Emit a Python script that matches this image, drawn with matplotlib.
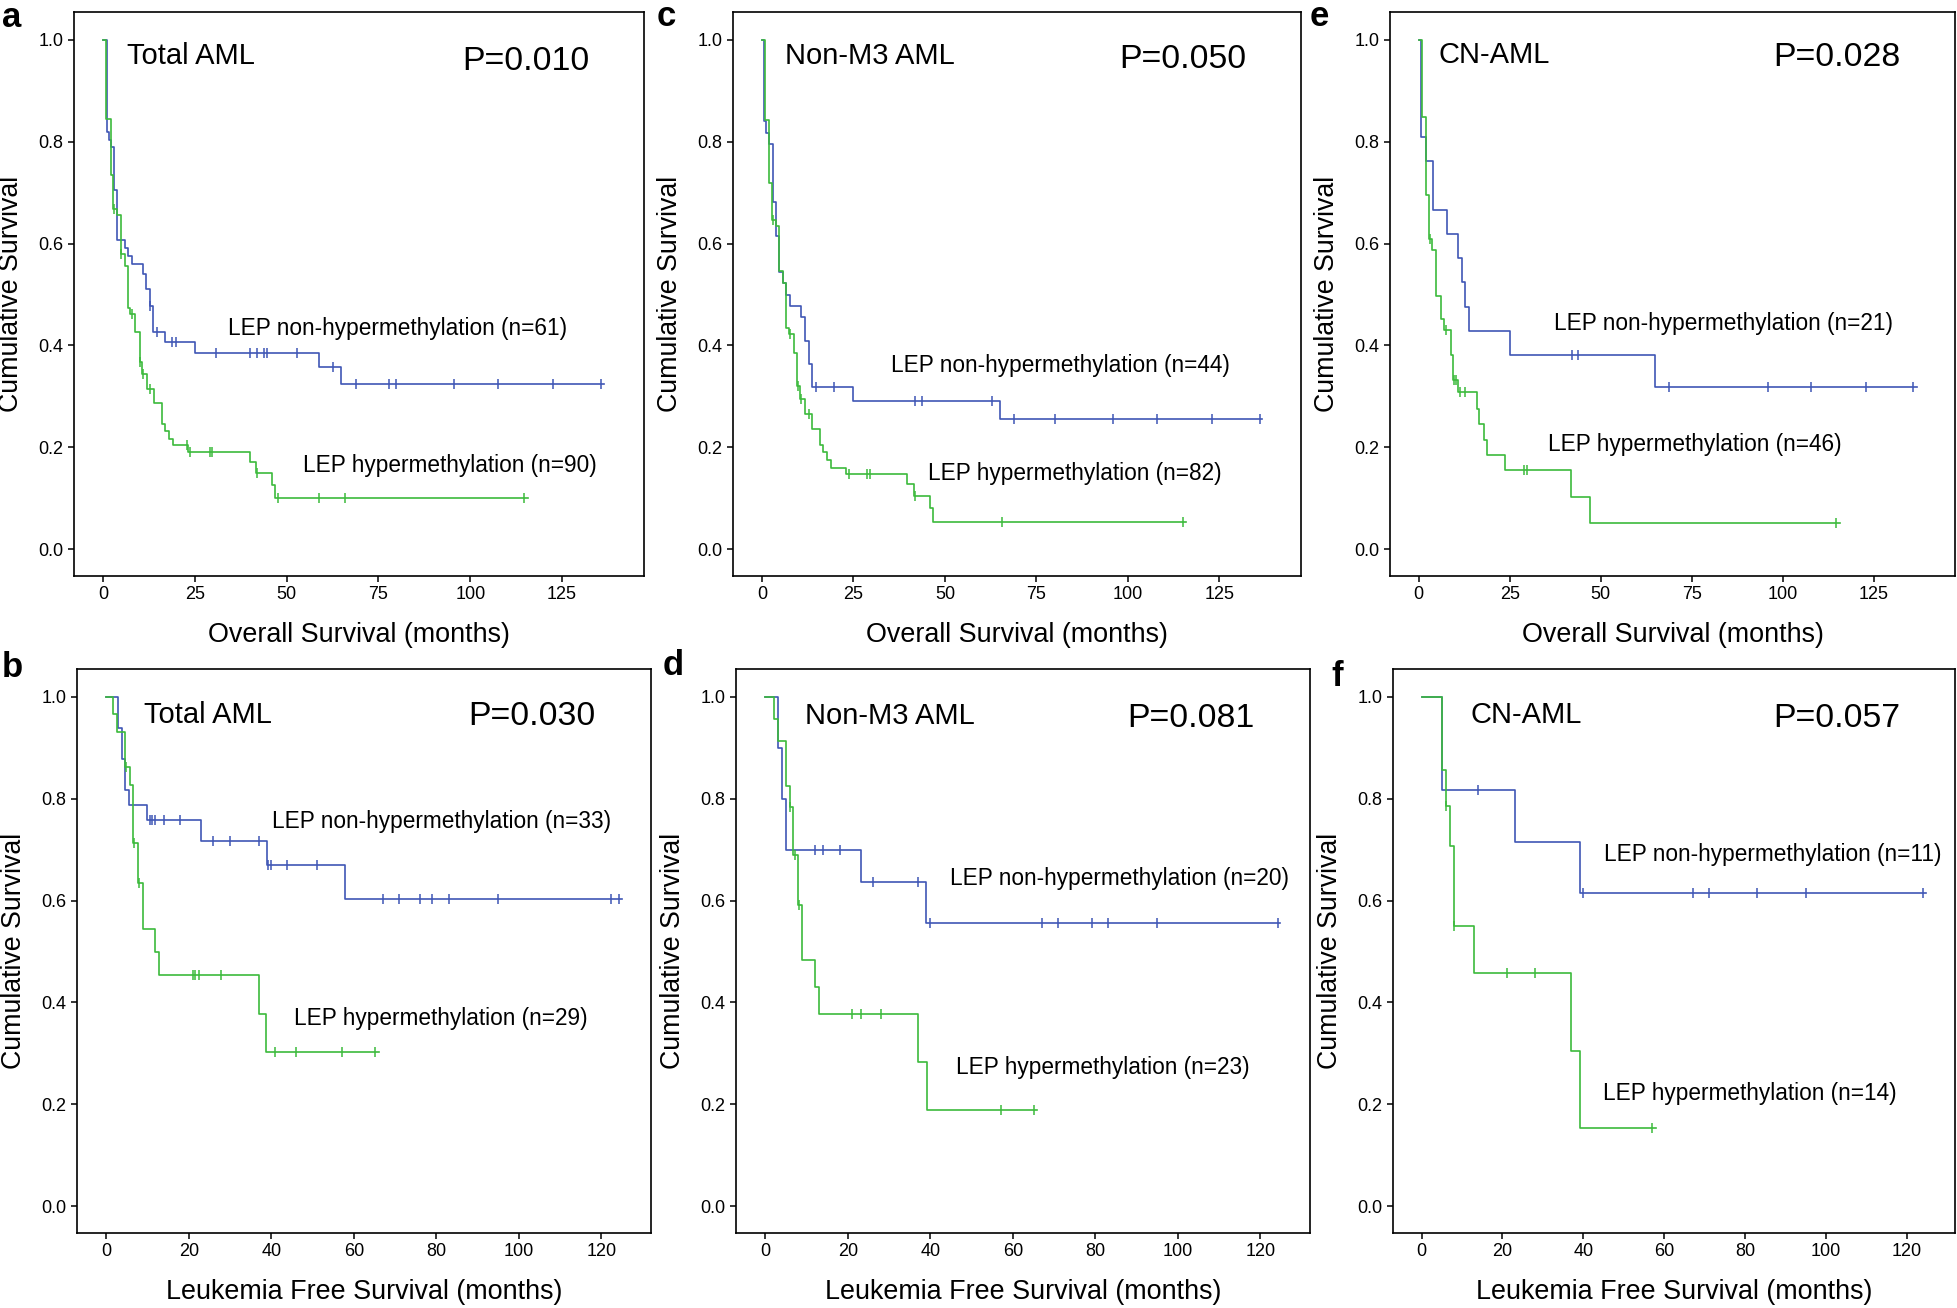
import numpy as np
import matplotlib.pyplot as plt

plt.rcParams['font.family'] = ['Liberation Sans', 'DejaVu Sans']

BLUE = '#3f56b5'
GREEN = '#3cba3c'

# a: Total AML, overall survival
a_non_t = [1.0, 1.5, 2.1, 3.0, 3.8, 6.0, 6.9, 7.9, 10.9, 11.8, 12.8, 13.7, 16.8, 25.0, 58.9, 64.9]
a_non_s = [0.820, 0.803, 0.789, 0.706, 0.608, 0.592, 0.575, 0.559, 0.541, 0.510, 0.477, 0.426, 0.406, 0.386, 0.357, 0.324]
a_non_c = [12.9, 14.8, 18.9, 19.8, 30.8, 40.1, 41.9, 43.8, 44.6, 52.9, 62.7, 68.9, 77.8, 79.7, 95.7, 107.6, 122.6, 135.7]
a_non_end = 136.5
a_hyp_t = [0.7, 2.1, 2.8, 3.9, 4.8, 6.0, 6.9, 7.4, 8.7, 10.1, 10.5, 12.0, 13.9, 16.0, 17.0, 18.1, 19.0, 23.2, 40.0, 41.7, 46.0, 46.9]
a_hyp_s = [0.845, 0.734, 0.668, 0.657, 0.579, 0.556, 0.474, 0.461, 0.426, 0.368, 0.343, 0.315, 0.287, 0.245, 0.232, 0.217, 0.204, 0.190, 0.170, 0.150, 0.125, 0.101]
a_hyp_c = [2.9, 5.0, 7.8, 10.2, 10.8, 12.8, 23.0, 23.8, 29.0, 29.8, 42.0, 47.7, 58.9, 65.8, 114.7]
a_hyp_end = 115.6

# c: Non-M3 AML, overall survival
c_non_t = [0.6, 1.1, 2.0, 2.9, 3.8, 4.7, 5.7, 6.6, 7.6, 10.8, 11.8, 12.9, 13.7, 25.0, 65.0]
c_non_s = [0.841, 0.818, 0.795, 0.682, 0.614, 0.545, 0.523, 0.500, 0.477, 0.455, 0.409, 0.364, 0.318, 0.291, 0.255]
c_non_c = [14.7, 19.8, 41.8, 43.7, 62.9, 68.8, 80.0, 95.9, 107.9, 122.9, 136.1]
c_non_end = 136.6
c_hyp_t = [0.8, 1.8, 2.7, 3.8, 4.7, 5.7, 6.6, 7.4, 8.7, 9.6, 10.5, 11.8, 13.8, 15.8, 16.6, 17.9, 18.9, 23.0, 39.7, 41.6, 45.8, 46.8]
c_hyp_s = [0.842, 0.720, 0.647, 0.635, 0.547, 0.523, 0.435, 0.423, 0.385, 0.320, 0.295, 0.265, 0.235, 0.205, 0.190, 0.175, 0.160, 0.147, 0.127, 0.105, 0.080, 0.053]
c_hyp_c = [3.0, 7.8, 9.9, 10.7, 13.0, 23.7, 28.7, 29.6, 41.8, 65.7, 115.0]
c_hyp_end = 115.8

# e: CN-AML, overall survival
e_non_t = [0.7, 1.9, 3.9, 7.8, 10.9, 11.9, 12.7, 13.8, 25.0, 64.8]
e_non_s = [0.810, 0.762, 0.667, 0.619, 0.571, 0.524, 0.476, 0.429, 0.381, 0.318]
e_non_c = [42.0, 43.8, 68.7, 95.8, 107.7, 122.8, 135.8]
e_non_end = 136.8
e_hyp_t = [0.8, 1.9, 2.8, 3.7, 4.8, 6.0, 6.9, 8.9, 9.5, 10.8, 15.9, 16.5, 17.9, 18.8, 23.8, 41.9, 47.0]
e_hyp_s = [0.848, 0.696, 0.609, 0.587, 0.497, 0.452, 0.430, 0.381, 0.333, 0.309, 0.275, 0.245, 0.215, 0.185, 0.155, 0.103, 0.052]
e_hyp_c = [3.2, 7.4, 9.7, 10.2, 11.2, 12.8, 29.0, 29.8, 114.7]
e_hyp_end = 115.6

# b: Total AML, leukemia free survival
b_non_t = [2.9, 3.7, 4.5, 5.6, 9.9, 22.9, 38.9, 57.9]
b_non_s = [0.939, 0.879, 0.818, 0.788, 0.758, 0.718, 0.670, 0.603]
b_non_c = [10.6, 11.1, 11.9, 13.9, 17.8, 25.9, 29.9, 37.0, 39.3, 39.9, 43.9, 51.0, 67.0, 71.0, 75.9, 79.0, 83.0, 95.0, 122.2, 124.2]
b_non_end = 124.9
b_hyp_t = [1.7, 2.6, 4.5, 5.8, 6.5, 7.6, 8.8, 11.9, 12.8, 36.9, 38.8]
b_hyp_s = [0.966, 0.931, 0.862, 0.828, 0.714, 0.635, 0.544, 0.499, 0.454, 0.378, 0.302]
b_hyp_c = [4.8, 6.7, 7.9, 21.0, 21.6, 22.5, 27.9, 41.0, 45.9, 57.0, 65.2]
b_hyp_end = 66.0

# d: Non-M3 AML, leukemia free survival
d_non_t = [3.0, 4.0, 5.1, 23.1, 39.0]
d_non_s = [0.900, 0.800, 0.700, 0.636, 0.556]
d_non_c = [12.1, 14.0, 18.1, 26.0, 37.0, 40.0, 67.1, 71.0, 79.1, 83.1, 95.0, 124.3]
d_non_end = 124.8
d_hyp_t = [2.0, 3.0, 5.1, 5.9, 6.8, 8.0, 9.0, 12.1, 12.9, 37.1, 39.1]
d_hyp_s = [0.957, 0.913, 0.826, 0.783, 0.690, 0.592, 0.484, 0.430, 0.377, 0.282, 0.188]
d_hyp_c = [6.0, 7.2, 8.2, 21.1, 23.1, 28.0, 57.0, 65.2]
d_hyp_end = 65.9

# f: CN-AML, leukemia free survival
f_non_t = [5.1, 23.0, 39.1]
f_non_s = [0.818, 0.716, 0.614]
f_non_c = [14.0, 40.0, 67.1, 71.0, 83.0, 95.0, 124.2]
f_non_end = 124.8
f_hyp_t = [5.1, 6.0, 7.0, 8.0, 13.0, 37.0, 39.1]
f_hyp_s = [0.857, 0.786, 0.707, 0.550, 0.458, 0.305, 0.153]
f_hyp_c = [6.1, 8.1, 21.0, 28.0, 57.0]
f_hyp_end = 57.9

letters = ['a', 'c', 'e', 'b', 'd', 'f']
groups = ['Total AML', 'Non-M3 AML', 'CN-AML', 'Total AML', 'Non-M3 AML', 'CN-AML']
pvals = ['P=0.010', 'P=0.050', 'P=0.028', 'P=0.030', 'P=0.081', 'P=0.057']
n_non = [61, 44, 21, 33, 20, 11]
n_hyp = [90, 82, 46, 29, 23, 14]
xlabels = ['Overall Survival (months)'] * 3 + ['Leukemia Free Survival (months)'] * 3

curves = [
    ((a_non_t, a_non_s, a_non_c, a_non_end), (a_hyp_t, a_hyp_s, a_hyp_c, a_hyp_end)),
    ((c_non_t, c_non_s, c_non_c, c_non_end), (c_hyp_t, c_hyp_s, c_hyp_c, c_hyp_end)),
    ((e_non_t, e_non_s, e_non_c, e_non_end), (e_hyp_t, e_hyp_s, e_hyp_c, e_hyp_end)),
    ((b_non_t, b_non_s, b_non_c, b_non_end), (b_hyp_t, b_hyp_s, b_hyp_c, b_hyp_end)),
    ((d_non_t, d_non_s, d_non_c, d_non_end), (d_hyp_t, d_hyp_s, d_hyp_c, d_hyp_end)),
    ((f_non_t, f_non_s, f_non_c, f_non_end), (f_hyp_t, f_hyp_s, f_hyp_c, f_hyp_end)),
]

# text anchors in data coords (title, p, non label, hyp label)
title_xy = [(6.6, 0.952), (6.3, 0.953), (5.4, 0.955), (9.1, 0.949), (9.5, 0.946), (12.2, 0.949)]
p_xy = [(97.8, 0.941), (97.7, 0.945), (97.5, 0.949), (87.8, 0.945), (87.7, 0.941), (87.1, 0.941)]
non_xy = [(34.1, 0.421), (35.2, 0.348), (37.1, 0.431), (40.1, 0.743), (44.8, 0.630), (45.1, 0.677)]
hyp_xy = [(54.5, 0.151), (45.5, 0.136), (35.4, 0.193), (45.4, 0.355), (46.3, 0.260), (44.9, 0.208)]

W, H = 1958, 1308
# axes frames in pixels: left, top, right, bottom
frames = [(74, 12, 644, 576), (733, 12, 1301, 576), (1390, 12, 1955, 576),
          (77, 669, 651, 1233), (736, 669, 1310, 1233), (1393, 669, 1955, 1233)]
letter_pos = [(2, 27), (657, 26), (1310, 26), (2, 677), (663, 675), (1331, 686)]


def km(ax, times, surv, cens, end, color):
    t = np.asarray(times)
    s = np.asarray(surv)
    ax.step(np.r_[0, t, end], np.r_[1.0, s, s[-1]], where='post', color=color, lw=1.2)
    idx = np.searchsorted(t, cens, side='right')
    ax.plot(cens, np.r_[1.0, s][idx], ls='none', marker='|', ms=6.5, mew=1.1, color=color)


fig = plt.figure(figsize=(W / 100, H / 100), dpi=100)
for i in range(6):
    l, t, r, b = frames[i]
    ax = fig.add_axes([l / W, 1 - b / H, (r - l) / W, (b - t) / H])
    non, hyp = curves[i]
    km(ax, *non, BLUE)
    km(ax, *hyp, GREEN)

    if i < 3:
        ax.set_xlim(-7.9, 147.3)
        ax.set_xticks([0, 25, 50, 75, 100, 125])
    else:
        ax.set_xlim(-7.1, 132.0)
        ax.set_xticks([0, 20, 40, 60, 80, 100, 120])
    ax.set_ylim(-0.053, 1.055)
    ax.set_yticks([0.0, 0.2, 0.4, 0.6, 0.8, 1.0])
    ax.set_yticklabels(['%.1f' % v for v in ax.get_yticks()])
    ax.tick_params(direction='out', length=4, width=1.1, labelsize=13, pad=3.5)
    for sp in ax.spines.values():
        sp.set_linewidth(1.2)

    ax.set_ylabel('Cumulative Survival', fontsize=19.3)
    ax.yaxis.set_label_coords(-50 / (r - l), 0.5)
    ax.set_xlabel(xlabels[i], fontsize=19.4)
    ax.xaxis.set_label_coords(0.5, -46 / (b - t))

    ax.text(*title_xy[i], groups[i], fontsize=21, va='baseline')
    ax.text(*p_xy[i], pvals[i], fontsize=24.4, va='baseline')
    ax.text(*non_xy[i], 'LEP non-hypermethylation (n=%d)' % n_non[i], fontsize=16.3, va='baseline')
    ax.text(*hyp_xy[i], 'LEP hypermethylation (n=%d)' % n_hyp[i], fontsize=16.3, va='baseline')

    lx, ly = letter_pos[i]
    fig.text(lx / W, 1 - ly / H, letters[i], fontsize=25, fontweight='bold', va='baseline')

fig.savefig('out.png', dpi=100)
